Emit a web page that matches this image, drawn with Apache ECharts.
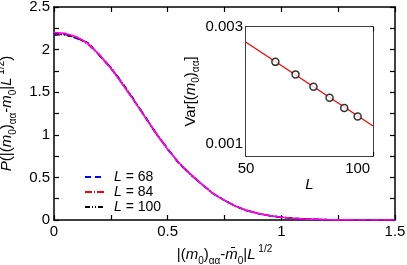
<!DOCTYPE html>
<html><head><meta charset="utf-8">
<script src="https://cdn.jsdelivr.net/npm/echarts@6/dist/echarts.min.js"></script>
<style>html,body{margin:0;padding:0;background:#fff}#c{width:407px;height:265px}</style>
</head><body><div id="c"></div>
<script>
// Main panel data
const xs = [0,0.05,0.1,0.15,0.2,0.25,0.3,0.35,0.4,0.45,0.5,0.55,0.6,0.65,0.7,0.75,0.8,0.85,0.9,0.95,1.0,1.05,1.1,1.15,1.2,1.25,1.3,1.35,1.4,1.45,1.5];
const fitP = [2.20,2.19,2.15,2.07,1.94,1.78,1.60,1.41,1.21,1.01,0.83,0.67,0.54,0.42,0.31,0.23,0.16,0.11,0.075,0.05,0.032,0.02,0.012,0.007,0.004,0.002,0.001,0.0006,0.0003,0.0001,0];
const pL68 = [2.17,2.18,2.13,2.08,1.93,1.78,1.61,1.41,1.22,1.01,0.84,0.66,0.54,0.42,0.31,0.23,0.16,0.11,0.074,0.05,0.03,0.021,0.012,0.007,0.004,0.002,0.001,0.0006,0.0003,0.0001,0];
const pL84 = [2.18,2.18,2.14,2.06,1.94,1.79,1.60,1.41,1.21,1.02,0.83,0.67,0.53,0.42,0.31,0.23,0.16,0.11,0.076,0.05,0.033,0.02,0.012,0.007,0.004,0.002,0.001,0.0006,0.0003,0.0001,0];
const pL100 = [2.19,2.17,2.14,2.08,1.93,1.79,1.61,1.42,1.21,1.01,0.83,0.67,0.54,0.42,0.31,0.23,0.16,0.11,0.075,0.05,0.032,0.02,0.012,0.007,0.004,0.002,0.001,0.0006,0.0003,0.0001,0];
const mainLabels = ['68','84','100'];
// Inset data
const insetL = [60,68,76,84,92,100];
const insetVar = [0.00216,0.00192,0.00171,0.00154,0.00140,0.00129];
const fitL = [50,110];
const fitVar = [0.0026,0.00118];
const insetXTicks = [50,60,70,80,90,100,110];
const insetXLabels = [50,100];
const insetYTicks = [0.001,0.002,0.003];
const insetYLabels = [0.001,0.003];

const lg = Math.log10;
const pair = (a,b)=>a.map((v,i)=>[v,b[i]]);
const pairLog = (a,b)=>a.map((v,i)=>[lg(v),lg(b[i])]);
const F = 'Liberation Sans, Arial, sans-serif';
const black = '#000';
const axLine = {show:true,onZero:false,lineStyle:{color:black,width:1.5}};
const rich = {
  i:{fontStyle:'italic',fontSize:15,fontFamily:F,color:black,verticalAlign:'middle',lineHeight:22},
  n:{fontSize:15,fontFamily:F,color:black,verticalAlign:'middle',lineHeight:22},
  sub:{fontSize:10,fontFamily:F,color:black,verticalAlign:'bottom',lineHeight:22},
  sup:{fontSize:10,fontFamily:F,color:black,verticalAlign:'top',lineHeight:22}
};
const xName = '{n||(}{i|m}{sub|0}{n|)}{sub|αα}{n|-}{i|m\u0304}{sub|0}{n||}{i|L}{sup| 1/2}';
const yName = '{i|P}{n|(|(}{i|m}{sub|0}{n|)}{sub|αα}{n|-}{i|m\u0304}{sub|0}{n||}{i|L}{sup| 1/2}{n|)}';
const vName = '{n|Var[(}{i|m}{sub|0}{n|)}{sub|αα}{n|]}';

const mk = (name,data,color,type,z)=>({name,type:'line',xAxisIndex:0,yAxisIndex:0,data:pair(xs,data),symbol:'none',
  lineStyle:{color,width:1.6,type},itemStyle:{color},z});

const chart = echarts.init(document.getElementById('c'),null,{renderer:'canvas'});
chart.setOption({
  animation:false,
  backgroundColor:'#fff',
  grid:[
    {left:54,top:7,right:12,bottom:45,show:false,containLabel:false,outerBoundsMode:'none'},
    {left:246,top:27,right:34,bottom:109,show:true,backgroundColor:'#fff',borderWidth:0,z:5,containLabel:false,outerBoundsMode:'none'}
  ],
  legend:{
    orient:'vertical',left:79,top:165,itemWidth:19,itemHeight:10,itemGap:1,
    data:mainLabels.map(s=>'L'+s),
    itemStyle:{color:'transparent',borderWidth:0,opacity:0},
    formatter:n=>'{i|L}{n| = '+n.slice(1)+'}',
    textStyle:{padding:[0,0,0,5],rich:{i:{fontStyle:'italic',fontSize:14,fontFamily:F,color:black},n:{fontSize:14,fontFamily:F,color:black}}}
  },
  xAxis:[
    {gridIndex:0,type:'value',min:0,max:1.5,interval:0.25,position:'bottom',axisLine:axLine,
     axisTick:{inside:true,length:5,lineStyle:{color:black,width:1.2}},splitLine:{show:false},
     axisLabel:{fontSize:15,fontFamily:F,color:black,margin:4,formatter:v=>(Math.abs(v*2-Math.round(v*2))<1e-6)?String(v):''},
     name:xName,nameLocation:'middle',nameGap:21,nameTextStyle:{rich}},
    {gridIndex:0,type:'value',min:0,max:1.5,interval:0.25,position:'top',axisLine:axLine,
     axisTick:{inside:true,length:5,lineStyle:{color:black,width:1.2}},axisLabel:{show:false},splitLine:{show:false}},
    {gridIndex:1,type:'value',min:lg(50),max:lg(110),position:'bottom',axisLine:axLine,
     axisTick:{inside:true,length:4,customValues:insetXTicks.map(lg),lineStyle:{color:black,width:1.2}},
     axisLabel:{fontSize:15,fontFamily:F,color:black,margin:5,customValues:insetXLabels.map(lg),formatter:v=>String(Math.round(Math.pow(10,v)))},
     splitLine:{show:false},name:'{i|L}',nameLocation:'middle',nameGap:11,nameTextStyle:{rich}},
    {gridIndex:1,type:'value',min:lg(50),max:lg(110),position:'top',axisLine:axLine,
     axisTick:{inside:true,length:4,customValues:insetXTicks.map(lg),lineStyle:{color:black,width:1.2}},
     axisLabel:{show:false},splitLine:{show:false}}
  ],
  yAxis:[
    {gridIndex:0,type:'value',min:0,max:2.5,interval:0.25,position:'left',axisLine:axLine,
     axisTick:{inside:true,length:5,lineStyle:{color:black,width:1.2}},splitLine:{show:false},
     axisLabel:{fontSize:15,fontFamily:F,color:black,margin:4,formatter:v=>(Math.abs(v*2-Math.round(v*2))<1e-6)?String(v):''},
     name:yName,nameLocation:'middle',nameGap:27,nameRotate:90,nameTextStyle:{rich}},
    {gridIndex:0,type:'value',min:0,max:2.5,interval:0.25,position:'right',axisLine:axLine,
     axisTick:{inside:true,length:5,lineStyle:{color:black,width:1.2}},axisLabel:{show:false},splitLine:{show:false}},
    {gridIndex:1,type:'value',min:lg(0.00089),max:lg(0.003),position:'left',axisLine:axLine,
     axisTick:{inside:true,length:4,customValues:insetYTicks.map(lg),lineStyle:{color:black,width:1.2}},
     axisLabel:{fontSize:15,fontFamily:F,color:black,margin:3,customValues:insetYLabels.map(lg),formatter:v=>Math.pow(10,v).toFixed(3)},
     splitLine:{show:false},name:vName,nameLocation:'middle',nameGap:22,nameRotate:90,nameTextStyle:{rich}},
    {gridIndex:1,type:'value',min:lg(0.00089),max:lg(0.003),position:'right',axisLine:axLine,
     axisTick:{inside:true,length:4,customValues:insetYTicks.map(lg),lineStyle:{color:black,width:1.2}},
     axisLabel:{show:false},splitLine:{show:false}}
  ],
  series:[
    mk('L68',pL68,'#0000ff',[6,4],2),
    mk('L84',pL84,'#ff0000',[7,2,1,2],3),
    mk('L100',pL100,'#000000',[5,2,1,2,1,2],4),
    mk('fit',fitP,'#ff00ff','solid',5),
    {type:'line',xAxisIndex:2,yAxisIndex:2,data:pairLog(fitL,fitVar),symbol:'none',lineStyle:{color:'#ff0000',width:1.3},z:10},
    {type:'scatter',xAxisIndex:2,yAxisIndex:2,data:pairLog(insetL,insetVar),symbol:'circle',symbolSize:7,
     itemStyle:{color:'#fff',borderColor:black,borderWidth:1.5},z:11}
  ]
});
</script></body></html>
